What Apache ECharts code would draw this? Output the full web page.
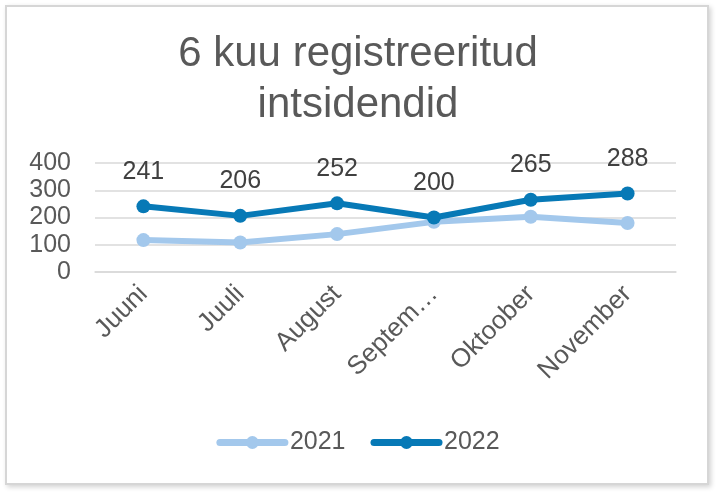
<!DOCTYPE html>
<html>
<head>
<meta charset="utf-8">
<script src="https://cdn.jsdelivr.net/npm/echarts@6/dist/echarts.min.js"></script>
<style>
  html, body { margin: 0; padding: 0; background: #fff; }
  #chart { position: absolute; left: 0; top: 0; width: 716px; height: 492px; }
  #frame {
    position: absolute; left: 5px; top: 5px; width: 700px; height: 476px;
    border: 2px solid #d6d6d6; box-shadow: 2px 2px 5px rgba(0,0,0,0.18);
    pointer-events: none;
  }
</style>
</head>
<body>
<div id="chart"></div>
<div id="frame"></div>
<script>
// andmed
var months = ['Juuni', 'Juuli', 'August', 'September', 'Oktoober', 'November'];
var values2021 = [117, 108, 139, 184, 203, 180];
var values2022 = [241, 206, 252, 200, 265, 288];
var yTicks = [0, 100, 200, 300, 400];

var textColor = '#595959';
var font = 'Liberation Sans';

var chart = echarts.init(document.getElementById('chart'));

var option = {
    animation: false,
    title: {
        text: '6 kuu registreeritud\nintsidendid',
        left: 'center',
        top: 24,
        textStyle: {
            fontFamily: font,
            fontSize: 42,
            lineHeight: 51,
            fontWeight: 'normal',
            color: textColor
        }
    },
    color: ['#a3c8ec', '#0779b6'],
    legend: {
        bottom: 32,
        left: 'center',
        itemWidth: 65,
        itemHeight: 16,
        itemGap: 25,
        lineStyle: { width: 7, cap: 'round' },
        textStyle: { fontFamily: font, fontSize: 25, color: textColor },
        data: ['2021', '2022']
    },
    grid: { left: 95, right: 40, top: 163, bottom: 220 },
    xAxis: {
        type: 'category',
        data: months,
        boundaryGap: true,
        axisTick: { show: false },
        axisLine: { lineStyle: { color: '#d9d9d9', width: 1.5 } },
        axisLabel: {
            rotate: 45,
            margin: 18,
            interval: 0,
            width: 122,
            overflow: 'truncate',
            ellipsis: '…',
            fontFamily: font,
            fontSize: 26,
            color: textColor
        }
    },
    yAxis: {
        type: 'value',
        min: yTicks[0],
        max: yTicks[yTicks.length - 1],
        interval: 100,
        axisLine: { show: false },
        axisTick: { show: false },
        splitLine: { lineStyle: { color: '#d9d9d9', width: 1.5 } },
        axisLabel: {
            margin: 24,
            fontFamily: font,
            fontSize: 25,
            color: textColor
        }
    },
    series: [
        {
            name: '2021',
            type: 'line',
            data: values2021,
            symbol: 'circle',
            symbolSize: 14,
            lineStyle: { width: 6 },
            z: 2
        },
        {
            name: '2022',
            type: 'line',
            data: values2022,
            symbol: 'circle',
            symbolSize: 14,
            lineStyle: { width: 6 },
            z: 3,
            label: {
                show: true,
                position: 'top',
                distance: 15,
                fontFamily: font,
                fontSize: 25,
                color: '#404040'
            }
        }
    ]
};

chart.setOption(option);
</script>
</body>
</html>
